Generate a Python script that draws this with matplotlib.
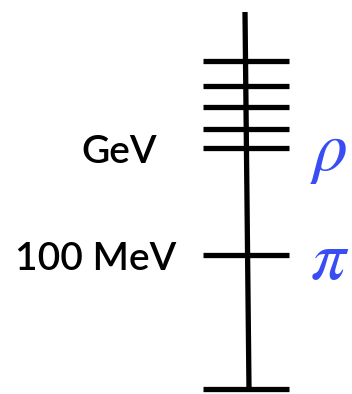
import matplotlib.pyplot as plt

# energy ladder: heights of each rung above the base line
rungs = [0, 134, 241, 260, 282, 303, 328]
rung_half = [43, 43, 43, 43, 43, 43, 43]
spine_top = 377

labels = ["100 MeV", "GeV"]
label_at = [134, 241]
label_gap = [70, 89]

states = [r"$\pi$", r"$\rho$"]
state_at = [134, 241]

plt.rcParams["mathtext.fontset"] = "stix"

fig = plt.figure(figsize=(3.52, 3.94), dpi=100)
ax = fig.add_axes([0, 0, 1, 1])
ax.set_xlim(0, 352)
ax.set_ylim(-5, 389)
ax.axis("off")

cx = 246
ax.plot([cx + 3, cx - 1], [0, spine_top], color="black", lw=3.8, solid_capstyle="butt")
for y, h in zip(rungs, rung_half):
    ax.plot([cx - h, cx + h], [y, y], color="black", lw=3.8, solid_capstyle="butt")

for txt, y, g in zip(labels, label_at, label_gap):
    ax.text(cx - g, y - 4, txt, ha="right", va="center", fontsize=28,
            family="Lato", weight="semibold")

for txt, y in zip(states, state_at):
    ax.text(cx + 64, y - 4, txt, ha="left", va="center", fontsize=50, color="#3a4df5")

fig.savefig("out.png", dpi=100)
